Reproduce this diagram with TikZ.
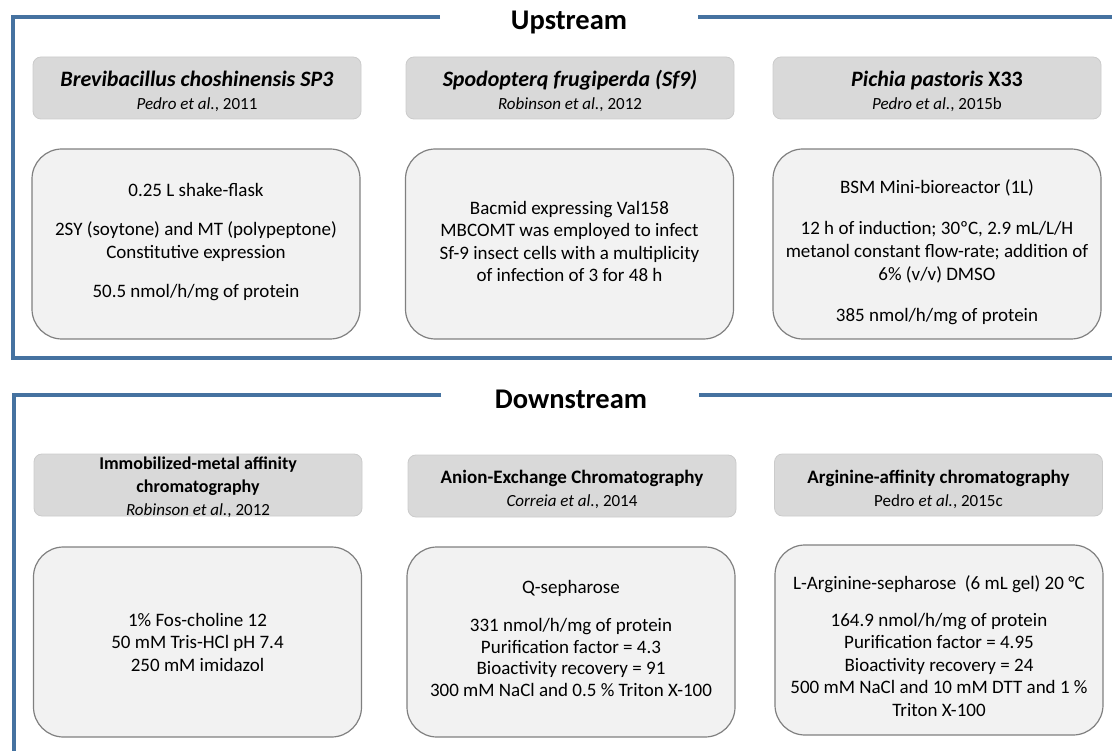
\documentclass[tikz,border=0pt]{standalone}
\usepackage{fontspec}
\setmainfont{Carlito}
\definecolor{frameblue}{RGB}{69,114,160}
\definecolor{hdrfill}{RGB}{217,217,217}
\definecolor{hdrdraw}{RGB}{203,203,203}
\definecolor{bodyfill}{RGB}{242,242,242}
\definecolor{bodydraw}{RGB}{128,128,128}
\newcommand{\subfont}{\fontsize{17}{20}\selectfont}
\begin{document}
\begin{tikzpicture}[x=1pt,y=-1pt,
  frame/.style={draw=frameblue,line width=4.5pt},
  sectitle/.style={font=\fontsize{28.5}{30}\selectfont\bfseries,inner sep=0pt},
  hdr/.style={draw=hdrdraw,line width=0.8pt,fill=hdrfill,rounded corners=8pt,
    minimum width=328pt,minimum height=62pt,inner sep=0pt},
  htext/.style={align=center,inner sep=0pt},
  uhdr/.style={htext,font=\fontsize{22}{23}\selectfont},
  dhdr/.style={htext,font=\fontsize{19}{23}\selectfont},
  body/.style={draw=bodydraw,line width=1.2pt,fill=bodyfill,rounded corners=30pt,
    minimum width=328pt,minimum height=190pt,inner sep=0pt},
  btext/.style={align=center,inner sep=0pt,font=\fontsize{19}{22.5}\selectfont}]
\useasboundingbox (0,0) rectangle (1112,751);
% Upstream frame
\draw[frame] (440,17) -- (13,17) -- (13,358) -- (1112,358);
\draw[frame] (698,17) -- (1112,17);
\node[sectitle] (up) at (569,23) {Upstream};
% Downstream frame
\draw[frame] (441,395) -- (14,395) -- (14,751);
\draw[frame] (699,395) -- (1112,395);
\node[sectitle] (down) at (571,399) {Downstream};
% Upstream headers
\node[hdr] (uh1) at (197,88) {};
\node[hdr] (uh2) at (570,88) {};
\node[hdr] (uh3) at (937,88) {};
\node[uhdr] (uh1t) at ([yshift=-3pt]uh1.center) {\textbf{\textit{Brevibacillus choshinensis SP3}}\\{\subfont\textit{Pedro et al.}, 2011}};
\node[uhdr] (uh2t) at ([yshift=-3pt]uh2.center) {\textbf{\textit{Spodopterq frugiperda (Sf9)}}\\{\subfont\textit{Robinson et al.}, 2012}};
\node[uhdr] (uh3t) at ([yshift=-3pt]uh3.center) {\textbf{\textit{Pichia pastoris} X33}\\{\subfont\textit{Pedro et al.}, 2015b}};
% Upstream bodies
\node[body] (ub1) at (196,244) {};
\node[body] (ub2) at (569.5,244) {};
\node[body] (ub3) at (937,244) {};
\node[btext] (ub1t) at ([yshift=2pt]ub1.center) {0.25 L shake-flask\\[17pt]2SY (soytone) and MT (polypeptone)\\Constitutive expression\\[17pt]50.5 nmol/h/mg of protein};
\node[btext] (ub2t) at ([yshift=2.5pt]ub2.center) {Bacmid expressing Val158\\MBCOMT was employed to infect\\Sf-9 insect cells with a multiplicity\\of infection of 3 for 48 h};
\node[btext,font=\fontsize{19}{23}\selectfont] (ub3t) at ([yshift=-8pt]ub3.center) {BSM Mini-bioreactor (1L)\\[18pt]12 h of induction; 30ºC, 2.9 mL/L/H\\metanol constant flow-rate; addition of\\6\% (v/v) DMSO\\[18pt]385 nmol/h/mg of protein};
% Downstream headers
\node[hdr] (dh1) at (198,485) {};
\node[hdr] (dh2) at (572,486) {};
\node[hdr] (dh3) at (938.5,485) {};
\node[dhdr,font=\fontsize{18}{23}\selectfont] (dh1t) at ([yshift=-2pt]dh1.center) {\textbf{Immobilized-metal affinity}\\\textbf{chromatography}\\{\subfont\textit{Robinson et al.}, 2012}};
\node[dhdr] (dh2t) at ([yshift=-3.5pt]dh2.center) {\textbf{Anion-Exchange Chromatography}\\{\subfont\textit{Correia et al.}, 2014}};
\node[dhdr] (dh3t) at ([yshift=-4pt]dh3.center) {\textbf{Arginine-affinity chromatography}\\{\subfont Pedro \textit{et al.}, 2015c}};
% Downstream bodies
\node[body] (db1) at (197.5,642) {};
\node[body] (db2) at (571,642) {};
\node[body] (db3) at (939,640) {};
\node[btext] (db1t) at (db1.center) {1\% Fos-choline 12\\50 mM Tris-HCl pH 7.4\\250 mM imidazol};
\node[btext,font=\fontsize{19}{21.5}\selectfont] (db2t) at ([yshift=4pt]db2.center) {Q-sepharose\\[17pt]331 nmol/h/mg of protein\\Purification factor = 4.3\\Bioactivity recovery = 91\\300 mM NaCl and 0.5 \% Triton X-100};
\node[btext] (db3t) at ([yshift=-6pt]db3.center) {L-Arginine-sepharose\ \ (6 mL gel) 20 °C\\[14pt]164.9 nmol/h/mg of protein\\Purification factor = 4.95\\Bioactivity recovery = 24\\500 mM NaCl and 10 mM DTT and 1 \%\\Triton X-100};
\end{tikzpicture}
\end{document}
